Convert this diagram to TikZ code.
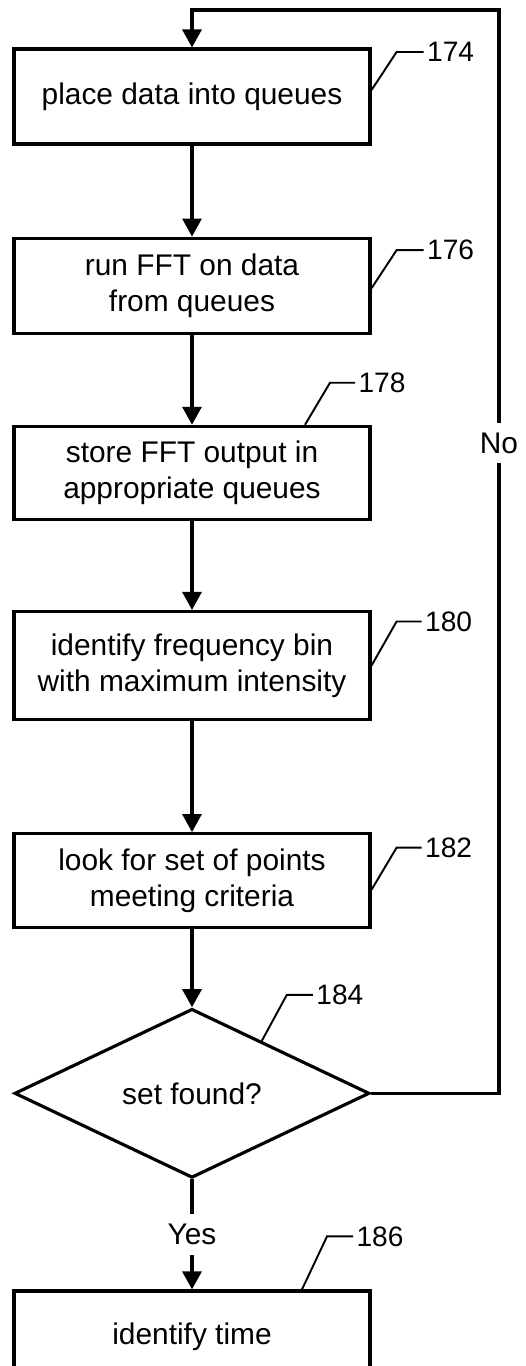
\documentclass[tikz,border=0pt]{standalone}
\usepackage{fontspec}
\setmainfont{Liberation Sans}
\usetikzlibrary{shapes.geometric, arrows.meta, positioning, calc}
\tikzstyle{process} = [rectangle, minimum width=7.12cm, minimum height=1.9cm, text centered, align=center, draw=black, line width=1.8pt, font=\fontsize{17}{20.5}\selectfont]
\tikzstyle{decision} = [diamond, minimum width=7.1cm, minimum height=3.38cm, inner sep=0pt, text centered, draw=black, line width=1.8pt, font=\fontsize{17}{20.5}\selectfont]
\tikzstyle{arrow} = [line width=1.8pt, -{Triangle[length=3.6mm, width=3.8mm]}]
\tikzstyle{refline} = [line width=1.1pt]
\tikzstyle{refnum} = [anchor=west, inner sep=1.5pt, font=\fontsize{16}{19}\selectfont]
\tikzstyle{yesno} = [fill=white, inner xsep=2pt, inner ysep=5.5pt, font=\fontsize{17}{20.5}\selectfont]

\begin{document}
\begin{tikzpicture}

    \useasboundingbox (0,0) rectangle (10.5,-27.32);

    % flow nodes
    \node (place) [process] at (3.84,-1.93) {place data into queues};
    \node (fft) [process, below=1.82cm of place] {run FFT on data\\from queues};
    \node (store) [process, below=1.8cm of fft, minimum height=1.86cm] {store FFT output in\\appropriate queues};
    \node (binmax) [process, below=1.78cm of store, minimum height=2.16cm] {identify frequency bin\\with maximum intensity};
    \node (search) [process, below=2.22cm of binmax, minimum height=1.88cm] {look for set of points\\meeting criteria};
    \node (setfound) [decision, below=1.56cm of search] {set found?};
    \node (idtime) [process, below=2.2cm of setfound, minimum height=1.84cm] {identify time};
    \coordinate (looptop) at (9.98,-0.2);

    % arrows
    \draw [arrow] (place) -- (fft);
    \draw [arrow] (fft) -- (store);
    \draw [arrow] (store) -- (binmax);
    \draw [arrow] (binmax) -- (search);
    \draw [arrow] (search) -- (setfound);
    \draw [arrow] (setfound) -- node[yesno] (yes) {Yes} (idtime);
    \draw [arrow] (setfound.east) -| node[yesno, pos=0.8] (no) {No} (looptop) -| (place.north);

    % reference numerals
    \draw [refline] ($(place.east)+(0,0.13)$) -- ++(0.5,0.76) -- ++(0.54,0) node[refnum] (r174) {174};
    \draw [refline] ($(fft.east)+(0,-0.05)$) -- ++(0.5,0.76) -- ++(0.54,0) node[refnum] (r176) {176};
    \draw [refline] ($(store.north)+(2.26,0)$) -- ++(0.5,0.84) -- ++(0.5,0) node[refnum] (r178) {178};
    \draw [refline] (binmax.east) -- ++(0.5,0.88) -- ++(0.5,0) node[refnum] (r180) {180};
    \draw [refline] ($(search.east)+(0,-0.18)$) -- ++(0.5,0.84) -- ++(0.5,0) node[refnum] (r182) {182};
    \draw [refline] ($(setfound.north)!0.39!(setfound.east)$) -- ++(0.5,0.92) -- ++(0.52,0) node[refnum] (r184) {184};
    \draw [refline] ($(idtime.north)+(2.2,0)$) -- ++(0.5,1.06) -- ++(0.52,0) node[refnum] (r186) {186};

\end{tikzpicture}
\end{document}
